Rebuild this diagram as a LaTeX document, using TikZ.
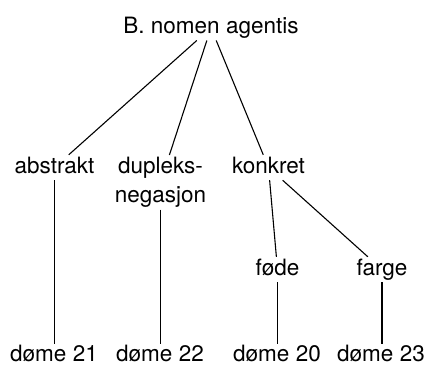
\documentclass[tikz,border=0pt]{standalone}
\usepackage{fontspec}
\setmainfont{TeX Gyre Heros}
\tikzset{
  lbl/.style={font=\fontsize{22.5}{28.7}\selectfont, inner xsep=2pt, inner ysep=2pt, anchor=base, text height=16pt, text depth=5pt},
  lowlbl/.style={lbl, text depth=0pt, inner ysep=1.5pt},
  twoline/.style={font=\fontsize{22.5}{28.7}\selectfont, inner xsep=2pt, inner ysep=2pt, anchor=north, align=center},
  edge/.style={line width=1.1pt}
}
\begin{document}
\begin{tikzpicture}[x=1pt,y=-1pt]
\useasboundingbox (0,0) rectangle (426,365);
\node[lbl] (root) at (211,33.3) {B. nomen agentis};
\node[lbl] (abs) at (54.5,173) {abstrakt};
\node[twoline] (dup) at (160.5,155) {\rule{0pt}{16pt}dupleks-\\negasjon\rule[-5pt]{0pt}{5pt}};
\node[lbl] (kon) at (268.5,173) {konkret};
\node[lbl] (fod) at (277.5,275) {føde};
\node[lbl] (far) at (382,275) {farge};
\node[lowlbl] (d21) at (54,361.8) {døme 21};
\node[lowlbl] (d22) at (160,361.8) {døme 22};
\node[lowlbl] (d20) at (277,361.8) {døme 20};
\node[lowlbl] (d23) at (381,361.8) {døme 23};
\draw[edge] (root) -- (abs);
\draw[edge] (root) -- (dup);
\draw[edge] (root) -- (kon);
\draw[edge] (kon) -- (fod);
\draw[edge] (kon) -- (far);
\draw[edge] (abs) -- (abs |- d21.north);
\draw[edge] (dup) -- (dup |- d22.north);
\draw[edge] (fod) -- (fod |- d20.north);
\draw[edge] (far) -- (far |- d23.north);
\end{tikzpicture}
\end{document}
